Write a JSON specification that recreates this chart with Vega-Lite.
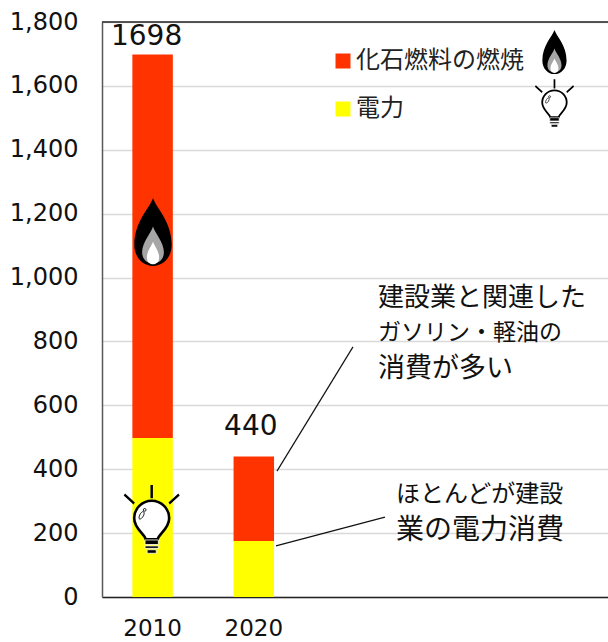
{"$schema":"https://vega.github.io/schema/vega-lite/v6.json","width":506,"height":575,"autosize":"none","padding":{"left":102,"top":22,"right":0,"bottom":45},"background":"white","config":{"view":{"stroke":null},"font":"DejaVu Sans"},"datasets":{"bars":[{"year":"2010","source":"化石燃料の燃焼","value":1200},{"year":"2010","source":"電力","value":498},{"year":"2020","source":"化石燃料の燃焼","value":265},{"year":"2020","source":"電力","value":175}],"totals":[{"year":"2010","total":1698},{"year":"2020","total":440}],"top":[{"y":1800}],"notes":[{"t":"建設業と関連した","x":2.727,"y":936,"line":1},{"t":"ガソリン・軽油の","x":2.727,"y":827,"line":2},{"t":"消費が多い","x":2.727,"y":714,"line":3},{"t":"ほとんどが建設","x":2.905,"y":320,"line":4},{"t":"業の電力消費","x":2.905,"y":207,"line":5}],"leaders":[{"x":1.729,"y":394,"x2":2.48,"y2":783},{"x":1.719,"y":160,"x2":2.796,"y2":250}],"flameBig":[{"x":0.504,"y":1143}],"flameSmall":[{"x":4.471,"y":1706}],"bulbBig":[{"x":0.491,"y":241}],"bulbSmall":[{"x":4.471,"y":1544}]},"resolve":{"scale":{"x":"independent"},"axis":{"x":"independent"}},"layer":[{"layer":[{"data":{"name":"bars"},"mark":{"type":"bar"},"encoding":{"x":{"field":"year","type":"ordinal","scale":{"domain":["2010","2020","2030","2040","2050"],"paddingInner":0.6,"paddingOuter":0.3},"axis":{"values":["2010","2020"],"title":null,"labelAngle":0,"labelFontSize":23,"labelColor":"#111111","labelFont":"DejaVu Sans","ticks":false,"labelPadding":20,"domainColor":"#222222","domainWidth":1.5}},"y":{"field":"value","type":"quantitative","stack":"zero","scale":{"domain":[0,1800],"nice":false},"axis":{"values":[0,200,400,600,800,1000,1200,1400,1600,1800],"format":",d","title":null,"ticks":false,"labelFontSize":24,"labelColor":"#111111","labelFont":"DejaVu Sans","labelPadding":24,"domainColor":"#595959","domainWidth":1.5,"gridColor":"#d9d9d9","gridWidth":1.3}},"color":{"field":"source","type":"nominal","scale":{"domain":["化石燃料の燃焼","電力"],"range":["#ff3300","#ffff00"]},"legend":{"orient":"none","legendX":229,"legendY":27,"title":null,"padding":0,"symbolType":"square","symbolSize":225,"symbolStrokeWidth":0,"symbolOpacity":1,"labelFont":"Noto Sans CJK JP","labelFontSize":24,"labelColor":"#222222","labelOffset":1,"labelLimit":300,"rowPadding":24}}}},{"data":{"name":"top"},"mark":{"type":"rule","color":"#222222","strokeWidth":1.3},"encoding":{"y":{"field":"y","type":"quantitative"}}},{"data":{"name":"totals"},"transform":[{"filter":"datum.year==='2010'"}],"mark":{"type":"text","fontSize":28,"font":"DejaVu Sans","color":"#111111","dx":-6,"dy":-10,"baseline":"alphabetic"},"encoding":{"x":{"field":"year","type":"ordinal"},"y":{"field":"total","type":"quantitative"},"text":{"field":"total","type":"quantitative"}}},{"data":{"name":"totals"},"transform":[{"filter":"datum.year==='2020'"}],"mark":{"type":"text","fontSize":28,"font":"DejaVu Sans","color":"#111111","dx":-3,"dy":-21,"baseline":"alphabetic"},"encoding":{"x":{"field":"year","type":"ordinal"},"y":{"field":"total","type":"quantitative"},"text":{"field":"total","type":"quantitative"}}}]},{"encoding":{"x":{"field":"x","type":"quantitative","scale":{"domain":[0,5],"nice":false},"axis":null},"y":{"field":"y","type":"quantitative"}},"layer":[{"data":{"name":"leaders"},"mark":{"type":"rule","color":"#111111","strokeWidth":1.2},"encoding":{"x2":{"field":"x2"},"y2":{"field":"y2"}}},{"data":{"name":"notes"},"transform":[{"filter":"datum.line===1"}],"mark":{"type":"text","align":"left","baseline":"middle","font":"Noto Sans CJK JP","fontSize":26,"color":"#111111"},"encoding":{"text":{"field":"t"}}},{"data":{"name":"notes"},"transform":[{"filter":"datum.line===2"}],"mark":{"type":"text","align":"left","baseline":"middle","font":"Noto Sans CJK JP","fontSize":23,"color":"#111111"},"encoding":{"text":{"field":"t"}}},{"data":{"name":"notes"},"transform":[{"filter":"datum.line===3"}],"mark":{"type":"text","align":"left","baseline":"middle","font":"Noto Sans CJK JP","fontSize":27,"color":"#111111"},"encoding":{"text":{"field":"t"}}},{"data":{"name":"notes"},"transform":[{"filter":"datum.line===4"}],"mark":{"type":"text","align":"left","baseline":"middle","font":"Noto Sans CJK JP","fontSize":24,"color":"#111111"},"encoding":{"text":{"field":"t"}}},{"data":{"name":"notes"},"transform":[{"filter":"datum.line===5"}],"mark":{"type":"text","align":"left","baseline":"middle","font":"Noto Sans CJK JP","fontSize":28,"color":"#111111"},"encoding":{"text":{"field":"t"}}},{"data":{"name":"flameBig"},"mark":{"type":"point","filled":true,"opacity":1,"color":"#000000","shape":"M0,-1 C0.1,-0.7 0.55,-0.3 0.55,0.38 C0.55,0.75 0.3,1 0,1 C-0.3,1 -0.55,0.75 -0.55,0.38 C-0.55,-0.3 -0.1,-0.7 0,-1 Z"},"encoding":{"size":{"value":4624}}},{"data":{"name":"flameBig"},"mark":{"type":"point","filled":true,"opacity":1,"color":"#a6a6a6","shape":"M0,-0.16 C0.06,0.05 0.32,0.3 0.32,0.6 C0.32,0.8 0.18,0.93 0,0.93 C-0.18,0.93 -0.32,0.8 -0.32,0.6 C-0.32,0.3 -0.06,0.05 0,-0.16 Z"},"encoding":{"size":{"value":4624}}},{"data":{"name":"flameBig"},"mark":{"type":"point","filled":true,"opacity":1,"color":"#ffffff","shape":"M0,0.28 C0.04,0.42 0.18,0.55 0.18,0.75 C0.18,0.88 0.1,0.95 0,0.95 C-0.1,0.95 -0.18,0.88 -0.18,0.75 C-0.18,0.55 -0.04,0.42 0,0.28 Z"},"encoding":{"size":{"value":4624}}},{"data":{"name":"flameSmall"},"mark":{"type":"point","filled":true,"opacity":1,"color":"#000000","shape":"M0,-1 C0.1,-0.7 0.55,-0.3 0.55,0.38 C0.55,0.75 0.3,1 0,1 C-0.3,1 -0.55,0.75 -0.55,0.38 C-0.55,-0.3 -0.1,-0.7 0,-1 Z"},"encoding":{"size":{"value":1936}}},{"data":{"name":"flameSmall"},"mark":{"type":"point","filled":true,"opacity":1,"color":"#a6a6a6","shape":"M0,-0.16 C0.06,0.05 0.32,0.3 0.32,0.6 C0.32,0.8 0.18,0.93 0,0.93 C-0.18,0.93 -0.32,0.8 -0.32,0.6 C-0.32,0.3 -0.06,0.05 0,-0.16 Z"},"encoding":{"size":{"value":1936}}},{"data":{"name":"flameSmall"},"mark":{"type":"point","filled":true,"opacity":1,"color":"#ffffff","shape":"M0,0.28 C0.04,0.42 0.18,0.55 0.18,0.75 C0.18,0.88 0.1,0.95 0,0.95 C-0.1,0.95 -0.18,0.88 -0.18,0.75 C-0.18,0.55 -0.04,0.42 0,0.28 Z"},"encoding":{"size":{"value":1936}}},{"data":{"name":"bulbBig"},"mark":{"type":"point","filled":true,"opacity":1,"fill":"#ffffff","stroke":"#000000","strokeWidth":2.6,"shape":"M-0.17,0.55 C-0.2,0.4 -0.5,0.25 -0.5,-0.05 A0.5,0.5 0 1 1 0.5,-0.05 C0.5,0.25 0.2,0.4 0.17,0.55 Z"},"encoding":{"size":{"value":4900}}},{"data":{"name":"bulbBig"},"mark":{"type":"point","filled":true,"opacity":1,"fill":"#000000","stroke":"#ffffff","strokeWidth":0.8,"shape":"M-0.19,0.57 H0.19 V0.7 H-0.19 Z M-0.19,0.74 H0.19 V0.81 H-0.19 Z M-0.13,0.85 H0.13 V0.95 H-0.13 Z"},"encoding":{"size":{"value":4900}}},{"data":{"name":"bulbBig"},"mark":{"type":"point","filled":true,"opacity":1,"fill":"#000000","shape":"M-0.035,-1 H0.035 V-0.62 H-0.035 Z M-0.8,-0.7 L-0.76,-0.76 L-0.48,-0.5 L-0.52,-0.44 Z M0.8,-0.7 L0.76,-0.76 L0.48,-0.5 L0.52,-0.44 Z"},"encoding":{"size":{"value":4900}}},{"data":{"name":"bulbBig"},"mark":{"type":"point","filled":false,"opacity":1,"stroke":"#000000","strokeWidth":0.9,"shape":"M-0.36,-0.04 C-0.38,-0.14 -0.25,-0.3 -0.22,-0.22 C-0.19,-0.14 -0.32,0.02 -0.36,-0.04 Z M-0.16,-0.29 A0.04,0.04 0 1 1 -0.24,-0.29 A0.04,0.04 0 1 1 -0.16,-0.29 Z"},"encoding":{"size":{"value":4900}}},{"data":{"name":"bulbSmall"},"mark":{"type":"point","filled":true,"opacity":1,"fill":"#ffffff","stroke":"#000000","strokeWidth":1.8,"shape":"M-0.17,0.55 C-0.2,0.4 -0.5,0.25 -0.5,-0.05 A0.5,0.5 0 1 1 0.5,-0.05 C0.5,0.25 0.2,0.4 0.17,0.55 Z"},"encoding":{"size":{"value":2401}}},{"data":{"name":"bulbSmall"},"mark":{"type":"point","filled":true,"opacity":1,"fill":"#000000","stroke":"#ffffff","strokeWidth":0.6,"shape":"M-0.19,0.57 H0.19 V0.7 H-0.19 Z M-0.19,0.74 H0.19 V0.81 H-0.19 Z M-0.13,0.85 H0.13 V0.95 H-0.13 Z"},"encoding":{"size":{"value":2401}}},{"data":{"name":"bulbSmall"},"mark":{"type":"point","filled":true,"opacity":1,"fill":"#000000","shape":"M-0.035,-1 H0.035 V-0.62 H-0.035 Z M-0.8,-0.7 L-0.76,-0.76 L-0.48,-0.5 L-0.52,-0.44 Z M0.8,-0.7 L0.76,-0.76 L0.48,-0.5 L0.52,-0.44 Z"},"encoding":{"size":{"value":2401}}},{"data":{"name":"bulbSmall"},"mark":{"type":"point","filled":false,"opacity":1,"stroke":"#000000","strokeWidth":0.7,"shape":"M-0.36,-0.04 C-0.38,-0.14 -0.25,-0.3 -0.22,-0.22 C-0.19,-0.14 -0.32,0.02 -0.36,-0.04 Z M-0.16,-0.29 A0.04,0.04 0 1 1 -0.24,-0.29 A0.04,0.04 0 1 1 -0.16,-0.29 Z"},"encoding":{"size":{"value":2401}}}]}]}
